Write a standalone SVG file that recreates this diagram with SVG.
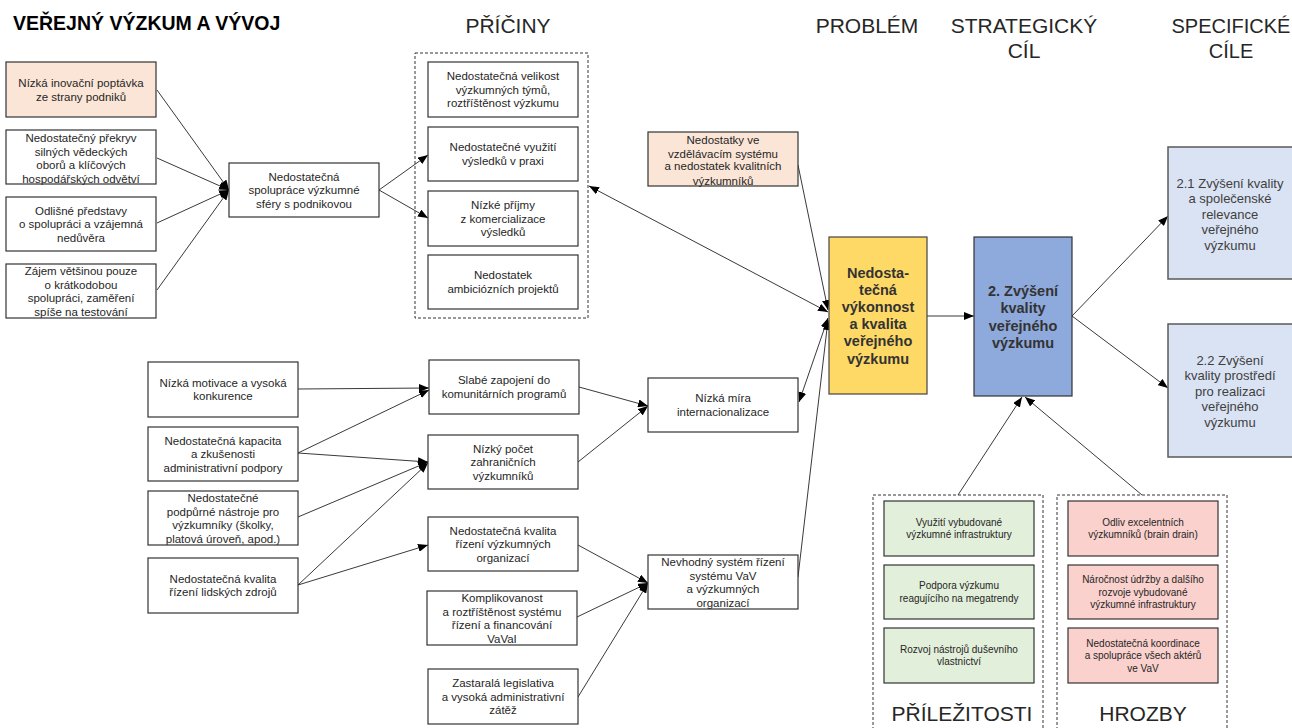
<svg xmlns="http://www.w3.org/2000/svg" width="1292" height="728" viewBox="0 0 1292 728">
<style>
text{font-family:"Liberation Sans",Arial,sans-serif;fill:#262626;text-anchor:middle}
.b{fill:#fff;stroke:#333;stroke-width:1.2}
.peach{fill:#FBE5D6}
.green{fill:#E2EFDA}
.red{fill:#FAD1CD}
.spec{fill:#DAE3F3;stroke:#595959;stroke-width:1.5}
.dash{fill:none;stroke:#333;stroke-width:1;stroke-dasharray:3 2}
.t{font-size:11.5px}
.s{font-size:10px}
.h{font-size:21px}
.big{font-size:14.5px;font-weight:bold;fill:#333}
.sp{font-size:13px;fill:#404040}
.c line{stroke:#222;stroke-width:0.9;fill:none}
.a{marker-end:url(#ah)}
.d{marker-start:url(#ah);marker-end:url(#ah)}
</style>
<defs>
<marker id="ah" markerUnits="userSpaceOnUse" markerWidth="10" markerHeight="8" refX="10" refY="4" orient="auto-start-reverse">
<path d="M0,0 L10,4 L0,8 z" fill="#000"/>
</marker>
</defs>
<rect width="1292" height="728" fill="#fff"/>

<g id="headings">
<text x="13" y="30" style="font-size:19.5px;font-weight:bold;text-anchor:start;fill:#000">VEŘEJNÝ VÝZKUM A VÝVOJ</text>
<text class="h" x="508" y="33">PŘÍČINY</text>
<text class="h" x="867" y="33">PROBLÉM</text>
<text class="h" x="1024" y="33">STRATEGICKÝ</text>
<text class="h" x="1024" y="58">CÍL</text>
<text class="h" x="1231" y="33" style="font-size:20px">SPECIFICKÉ</text>
<text class="h" x="1231" y="58" style="font-size:20px">CÍLE</text>
<text class="h" x="962" y="721">PŘÍLEŽITOSTI</text>
<text class="h" x="1143" y="721">HROZBY</text>
</g>

<g id="containers">
<rect class="dash" x="415" y="53" width="173" height="265"/>
<rect class="dash" x="873" y="495" width="170" height="240"/>
<rect class="dash" x="1057" y="495" width="170" height="240"/>
</g>

<g class="c" id="connectors">
<line class="a" x1="157" y1="90" x2="229" y2="190"/>
<line class="a" x1="157" y1="158" x2="229" y2="190"/>
<line class="a" x1="157" y1="223" x2="229" y2="190"/>
<line class="a" x1="157" y1="290" x2="229" y2="190"/>
<line class="a" x1="379" y1="190" x2="428" y2="155"/>
<line class="a" x1="379" y1="190" x2="428" y2="218"/>
<line class="d" x1="589" y1="186" x2="828" y2="312"/>
<line class="a" x1="798" y1="165" x2="828" y2="310"/>
<line class="d" x1="799" y1="402" x2="828" y2="318"/>
<line class="a" x1="798" y1="577" x2="828" y2="320"/>
<line class="a" x1="927" y1="316" x2="974" y2="316"/>
<line class="a" x1="1072" y1="316" x2="1168" y2="216"/>
<line class="a" x1="1072" y1="316" x2="1168" y2="388"/>
<line class="a" x1="958" y1="495" x2="1022" y2="397"/>
<line class="a" x1="1142" y1="495" x2="1025" y2="397"/>
<line class="a" x1="298" y1="389" x2="429" y2="388"/>
<line class="a" x1="298" y1="453" x2="429" y2="390"/>
<line class="a" x1="298" y1="453" x2="428" y2="462"/>
<line class="a" x1="298" y1="517" x2="428" y2="462"/>
<line class="a" x1="298" y1="585" x2="428" y2="463"/>
<line class="a" x1="298" y1="585" x2="428" y2="545"/>
<line class="a" x1="579" y1="387" x2="648" y2="406"/>
<line class="a" x1="578" y1="462" x2="648" y2="406"/>
<line class="a" x1="578" y1="545" x2="648" y2="583"/>
<line class="a" x1="577" y1="617" x2="648" y2="583"/>
<line class="a" x1="578" y1="697" x2="648" y2="583"/>
</g>

<g id="a1"><rect class="b peach" x="6" y="62" width="150" height="55"/>
<text class="t" x="81" y="87">Nízká inovační poptávka</text><text class="t" x="81" y="100.5">ze strany podniků</text></g>
<g id="a2"><rect class="b" x="6" y="130" width="150" height="54"/>
<text class="t" x="81" y="142">Nedostatečný překryv</text><text class="t" x="81" y="155.5">silných vědeckých</text><text class="t" x="81" y="169">oborů a klíčových</text><text class="t" x="81" y="182.5">hospodářských odvětví</text></g>
<g id="a3"><rect class="b" x="6" y="197" width="150" height="54"/>
<text class="t" x="81" y="214.5">Odlišné představy</text><text class="t" x="81" y="228">o spolupráci a vzájemná</text><text class="t" x="81" y="241.5">nedůvěra</text></g>
<g id="a4"><rect class="b" x="6" y="264" width="150" height="54"/>
<text class="t" x="81" y="275">Zájem většinou pouze</text><text class="t" x="81" y="288.5">o krátkodobou</text><text class="t" x="81" y="302">spolupráci, zaměření</text><text class="t" x="81" y="315.5">spíše na testování</text></g>
<g id="spoluprace"><rect class="b" x="229" y="163" width="150" height="54"/>
<text class="t" x="304" y="180.5">Nedostatečná</text><text class="t" x="304" y="194">spolupráce výzkumné</text><text class="t" x="304" y="207.5">sféry s podnikovou</text></g>

<g id="p1"><rect class="b" x="428" y="62" width="150" height="55"/>
<text class="t" x="503" y="80">Nedostatečná velikost</text><text class="t" x="503" y="93.5">výzkumných týmů,</text><text class="t" x="503" y="107">roztříštěnost výzkumu</text></g>
<g id="p2"><rect class="b" x="428" y="127" width="150" height="54"/>
<text class="t" x="503" y="151.25">Nedostatečné využití</text><text class="t" x="503" y="164.75">výsledků v praxi</text></g>
<g id="p3"><rect class="b" x="428" y="191" width="150" height="55"/>
<text class="t" x="503" y="209">Nízké příjmy</text><text class="t" x="503" y="222.5">z komercializace</text><text class="t" x="503" y="236">výsledků</text></g>
<g id="p4"><rect class="b" x="428" y="255" width="150" height="54"/>
<text class="t" x="503" y="279">Nedostatek</text><text class="t" x="503" y="292.5">ambiciózních projektů</text></g>

<g id="nedostatky"><rect class="b peach" x="648" y="132" width="150" height="54"/>
<text class="t" x="723" y="144">Nedostatky ve</text><text class="t" x="723" y="157.5">vzdělávacím systému</text><text class="t" x="723" y="170">a nedostatek kvalitních</text><text class="t" x="723" y="184.5">výzkumníků</text></g>

<g id="problem"><rect x="829" y="237" width="98" height="157" fill="#FFD966" stroke="#444" stroke-width="1.2"/>
<text class="big" x="878" y="277.5">Nedosta-</text><text class="big" x="878" y="294.7">tečná</text><text class="big" x="878" y="311.9">výkonnost</text><text class="big" x="878" y="329.1">a kvalita</text><text class="big" x="878" y="346.3">veřejného</text><text class="big" x="878" y="363.5">výzkumu</text></g>

<g id="strategic"><rect x="974" y="237" width="98" height="159" fill="#8EA9DB" stroke="#333" stroke-width="1.2"/>
<text class="big" x="1023" y="296">2. Zvýšení</text><text class="big" x="1023" y="313.3">kvality</text><text class="big" x="1023" y="330.6">veřejného</text><text class="big" x="1023" y="347.9">výzkumu</text></g>

<g id="spec21"><rect class="spec" x="1168" y="147" width="130" height="132"/>
<text class="sp" x="1230" y="187.5">2.1 Zvýšení kvality</text><text class="sp" x="1230" y="203">a společenské</text><text class="sp" x="1230" y="218.5">relevance</text><text class="sp" x="1230" y="234">veřejného</text><text class="sp" x="1230" y="249.5">výzkumu</text></g>
<g id="spec22"><rect class="spec" x="1168" y="324" width="130" height="133"/>
<text class="sp" x="1230" y="364.5">2.2 Zvýšení</text><text class="sp" x="1230" y="380">kvality prostředí</text><text class="sp" x="1230" y="395.5">pro realizaci</text><text class="sp" x="1230" y="411">veřejného</text><text class="sp" x="1230" y="426.5">výzkumu</text></g>

<g id="b1"><rect class="b" x="148" y="362" width="150" height="55"/>
<text class="t" x="223" y="386.5">Nízká motivace a vysoká</text><text class="t" x="223" y="400">konkurence</text></g>
<g id="b2"><rect class="b" x="148" y="427" width="150" height="54"/>
<text class="t" x="223" y="444.5">Nedostatečná kapacita</text><text class="t" x="223" y="458">a zkušenosti</text><text class="t" x="223" y="471.5">administrativní podpory</text></g>
<g id="b3"><rect class="b" x="148" y="491" width="150" height="54"/>
<text class="t" x="223" y="502">Nedostatečné</text><text class="t" x="223" y="515.5">podpůrné nástroje pro</text><text class="t" x="223" y="529">výzkumníky (školky,</text><text class="t" x="223" y="542.5">platová úroveň, apod.)</text></g>
<g id="b4"><rect class="b" x="148" y="558" width="150" height="55"/>
<text class="t" x="223" y="582.5">Nedostatečná kvalita</text><text class="t" x="223" y="596">řízení lidských zdrojů</text></g>

<g id="c1"><rect class="b" x="429" y="360" width="150" height="54"/>
<text class="t" x="504" y="384">Slabé zapojení do</text><text class="t" x="504" y="397.5">komunitárních programů</text></g>
<g id="c2"><rect class="b" x="428" y="435" width="150" height="54"/>
<text class="t" x="503" y="452.5">Nízký počet</text><text class="t" x="503" y="466">zahraničních</text><text class="t" x="503" y="479.5">výzkumníků</text></g>
<g id="c3"><rect class="b" x="428" y="517" width="150" height="54"/>
<text class="t" x="503" y="534.5">Nedostatečná kvalita</text><text class="t" x="503" y="548">řízení výzkumných</text><text class="t" x="503" y="561.5">organizací</text></g>
<g id="c4"><rect class="b" x="427" y="591" width="150" height="54"/>
<text class="t" x="502" y="602">Komplikovanost</text><text class="t" x="502" y="615.5">a roztříštěnost systému</text><text class="t" x="502" y="629">řízení a financování</text><text class="t" x="502" y="642.5">VaVaI</text></g>
<g id="c5"><rect class="b" x="428" y="669" width="150" height="55"/>
<text class="t" x="503" y="687">Zastaralá legislativa</text><text class="t" x="503" y="700.5">a vysoká administrativní</text><text class="t" x="503" y="714">zátěž</text></g>

<g id="d1"><rect class="b" x="648" y="378" width="150" height="54"/>
<text class="t" x="723" y="402">Nízká míra</text><text class="t" x="723" y="415.5">internacionalizace</text></g>
<g id="d2"><rect class="b" x="648" y="555" width="150" height="54"/>
<text class="t" x="723" y="566">Nevhodný systém řízení</text><text class="t" x="723" y="579.5">systému VaV</text><text class="t" x="723" y="593">a výzkumných</text><text class="t" x="723" y="606.5">organizací</text></g>

<g id="o1"><rect class="b green" x="884" y="501" width="150" height="55"/>
<text class="s" x="959" y="525.75">Využití vybudované</text><text class="s" x="959" y="538.25">výzkumné infrastruktury</text></g>
<g id="o2"><rect class="b green" x="884" y="565" width="150" height="54"/>
<text class="s" x="959" y="589.25">Podpora výzkumu</text><text class="s" x="959" y="601.75">reagujícího na megatrendy</text></g>
<g id="o3"><rect class="b green" x="884" y="628" width="150" height="55"/>
<text class="s" x="959" y="652.75">Rozvoj nástrojů duševního</text><text class="s" x="959" y="665.25">vlastnictví</text></g>

<g id="t1"><rect class="b red" x="1068" y="501" width="150" height="55"/>
<text class="s" x="1143" y="525.75">Odliv excelentních</text><text class="s" x="1143" y="538.25">výzkumníků (brain drain)</text></g>
<g id="t2"><rect class="b red" x="1068" y="565" width="150" height="54"/>
<text class="s" x="1143" y="583">Náročnost údržby a dalšího</text><text class="s" x="1143" y="595.5">rozvoje vybudované</text><text class="s" x="1143" y="608">výzkumné infrastruktury</text></g>
<g id="t3"><rect class="b red" x="1068" y="628" width="150" height="55"/>
<text class="s" x="1143" y="646.5">Nedostatečná koordinace</text><text class="s" x="1143" y="659">a spolupráce všech aktérů</text><text class="s" x="1143" y="671.5">ve VaV</text></g>
</svg>
